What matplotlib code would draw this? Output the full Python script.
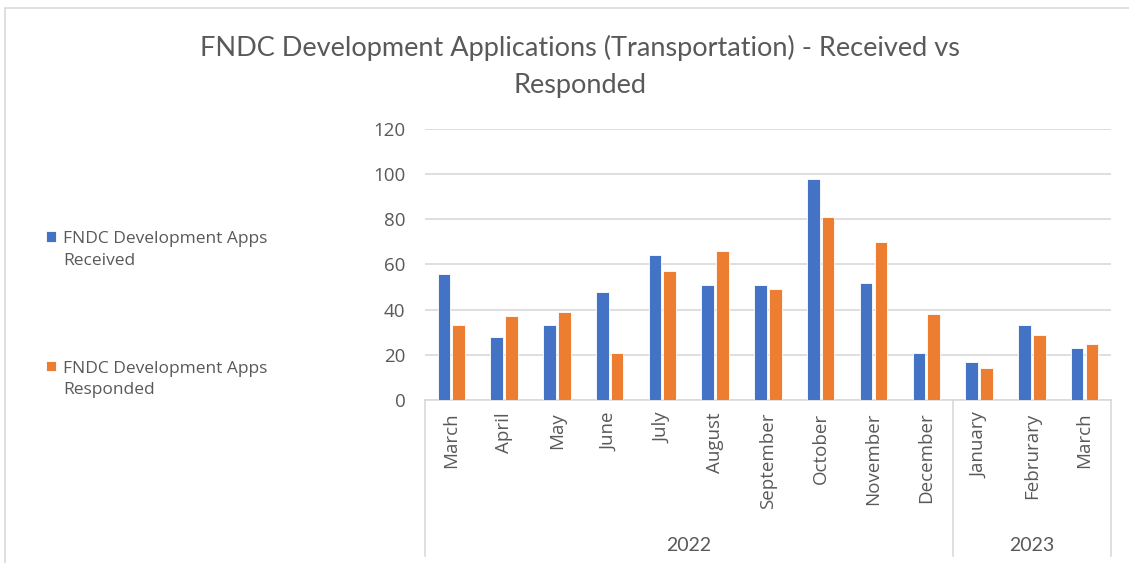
import numpy as np
import matplotlib.pyplot as plt
from matplotlib.patches import Rectangle
from matplotlib.transforms import blended_transform_factory

months = ["March", "April", "May", "June", "July", "August", "September",
          "October", "November", "December", "January", "Februrary", "March"]
years = ["2022", "2023"]
months_per_year = [10, 3]
received = [56, 28, 33, 48, 64, 51, 51, 98, 52, 21, 17, 33, 23]
responded = [33, 37, 39, 21, 57, 66, 49, 81, 70, 38, 14, 29, 25]

BLUE = "#4472C4"
ORANGE = "#ED7D31"
TEXT = "#595959"
GRID = "#D9D9D9"

fig = plt.figure(figsize=(11.29, 5.63), dpi=100)
ax = fig.add_axes([0.3764, 0.2895, 0.6076, 0.4814])

x = np.arange(len(months))
w = 0.24
b1 = ax.bar(x - 0.14, received, w, color=BLUE, edgecolor="white", linewidth=0.6,
            label="FNDC Development Apps\nReceived", zorder=3)
b2 = ax.bar(x + 0.14, responded, w, color=ORANGE, edgecolor="white", linewidth=0.6,
            label="FNDC Development Apps\nResponded", zorder=3)

ax.set_xlim(-0.5, len(months) - 0.5)
ax.set_ylim(0, 120)
ax.set_yticks(range(0, 121, 20))
ax.yaxis.grid(True, color=GRID, linewidth=1.2, zorder=0)
for s in ["top", "right", "left"]:
    ax.spines[s].set_visible(False)
ax.spines["bottom"].set_color(GRID)
ax.spines["bottom"].set_linewidth(1.2)
ax.tick_params(axis="y", length=0, pad=14, labelsize=13.5, labelcolor=TEXT)
ax.set_xticks(x)
ax.set_xticklabels(months, rotation=90, fontsize=13.5, color=TEXT)
ax.tick_params(axis="x", length=0, pad=9)
for lab in ax.get_yticklabels() + ax.get_xticklabels():
    lab.set_fontfamily("Open Sans")

# year grouping below month labels
trans = blended_transform_factory(ax.transData, ax.transAxes)
edges = np.concatenate([[0], np.cumsum(months_per_year)]) - 0.5
for e in edges:
    ax.plot([e, e], [0, -0.575], color=GRID, linewidth=1.2, transform=trans,
            clip_on=False)
for i, yr in enumerate(years):
    ax.text((edges[i] + edges[i + 1]) / 2, -0.535, yr, transform=trans,
            ha="center", va="center", fontsize=14, color=TEXT, family="Lato")

fig.text(0.514, 0.915, "FNDC Development Applications (Transportation) - Received vs",
         ha="center", va="center", fontsize=19.5, color=TEXT, family="Lato")
fig.text(0.514, 0.848, "Responded", ha="center", va="center", fontsize=19.5,
         color=TEXT, family="Lato")

leg = fig.legend(handles=[b1, b2], loc="upper left", bbox_to_anchor=(0.027, 0.617),
                 frameon=False, labelspacing=5.3, handlelength=0.55,
                 handleheight=0.55, handletextpad=0.45,
                 prop={"family": "Open Sans", "size": 12.5})
for t in leg.get_texts():
    t.set_color(TEXT)
    t.set_linespacing(1.45)
# put the square next to the first line, like the original
for col in leg._legend_handle_box.get_children():
    for item in col.get_children():
        item.align = "top"

fig.patches.append(Rectangle((0.0045, -0.1), 1.2, 1.086, transform=fig.transFigure,
                             fill=False, edgecolor=GRID, linewidth=1.2))

fig.savefig("out.png", dpi=100)
